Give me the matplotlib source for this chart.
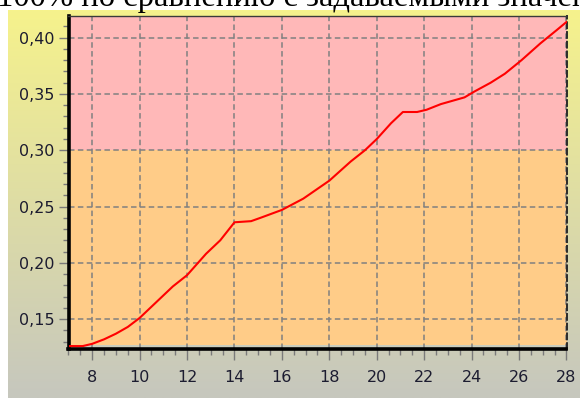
import numpy as np
import matplotlib.pyplot as plt
from matplotlib.ticker import MultipleLocator, FixedLocator, FixedFormatter

# Curve samples
x_vals = [7.0, 7.6, 8.0, 8.5, 9.0, 9.5, 10.0, 10.7, 11.4, 12.0, 12.8, 13.4,
          14.0, 14.7, 15.1, 16.0, 16.9, 18.0, 18.9, 19.5, 20.0, 20.6, 21.1,
          21.7, 22.1, 22.7, 23.7, 24.1, 24.8, 25.4, 26.1, 26.9, 27.6, 28.0]
y_vals = [0.126, 0.126, 0.128, 0.132, 0.137, 0.143, 0.151, 0.165, 0.179,
          0.189, 0.208, 0.220, 0.236, 0.237, 0.240, 0.247, 0.257, 0.273,
          0.290, 0.300, 0.310, 0.324, 0.334, 0.334, 0.336, 0.341, 0.347,
          0.352, 0.360, 0.368, 0.380, 0.395, 0.407, 0.414]

x_ticks = [8, 10, 12, 14, 16, 18, 20, 22, 24, 26, 28]
y_ticks = [0.15, 0.20, 0.25, 0.30, 0.35, 0.40]
y_tick_labels = ["0,15", "0,20", "0,25", "0,30", "0,35", "0,40"]

zone_low = 0.1266
zone_limit = 0.30
title_text = "100% по сравнению с задаваемыми значениями"

W, H = 580, 398
fig = plt.figure(figsize=(W / 100, H / 100), dpi=100)
fig.patch.set_facecolor("white")

# Panel background: vertical yellow-to-grey gradient
bg = fig.add_axes([8 / W, 0, 1 - 8 / W, 1 - 10 / H], zorder=0)
t = np.linspace(0, 1, 256)[:, None, None]
c_top = np.array([246, 242, 140]) / 255
c_bot = np.array([198, 199, 190]) / 255
grad = c_top * (1 - t) + c_bot * t
bg.imshow(grad, aspect="auto", extent=[0, 1, 0, 1], interpolation="bilinear")
bg.axis("off")

# Main plotting area
ax = fig.add_axes([68.5 / W, 1 - 349 / H, (566.5 - 68.5) / W, (349 - 16) / H], zorder=1)
ymin, ymax = 0.1234, 0.4193
ax.set_xlim(7, 28)
ax.set_ylim(ymin, ymax)
ax.set_facecolor("#C9CCBD")

ax.axhspan(zone_low, zone_limit, color="#FFCC88", lw=0, zorder=0)
ax.axhspan(zone_limit, ymax, color="#FFB8B8", lw=0, zorder=0)

ax.xaxis.set_major_locator(FixedLocator(x_ticks))
ax.xaxis.set_minor_locator(MultipleLocator(0.5))
ax.yaxis.set_major_locator(FixedLocator(y_ticks))
ax.yaxis.set_major_formatter(FixedFormatter(y_tick_labels))
ax.yaxis.set_minor_locator(MultipleLocator(0.01))

ax.grid(True, which="major", color="#808080", lw=1.1, linestyle=(0, (3.6, 2.2)))

ax.plot(x_vals, y_vals, color="#FF0000", lw=1.5, zorder=3)

for side in ("left", "bottom"):
    ax.spines[side].set_color("black")
    ax.spines[side].set_linewidth(2.6)
ax.spines["top"].set_color("#3a3a3a")
ax.spines["top"].set_linewidth(1.0)
ax.spines["right"].set_color("#2a2a2a")
ax.spines["right"].set_linewidth(1.4)
ax.spines["right"].set_linestyle((0, (3, 2)))

ax.tick_params(which="major", direction="out", length=7, width=1,
               color="#7a7a7a", labelsize=11.5, labelcolor="#1c1c30")
ax.tick_params(which="minor", direction="out", length=4, width=1, color="#7a7a7a")
ax.tick_params(axis="x", which="major", length=8, pad=7)
ax.tick_params(axis="y", which="major", pad=3)

fig.text(-3 / W, 1 - 6 / H, title_text, family="Liberation Serif",
         fontsize=23.5, ha="left", va="baseline", color="black")

fig.savefig("out.png", dpi=100)
